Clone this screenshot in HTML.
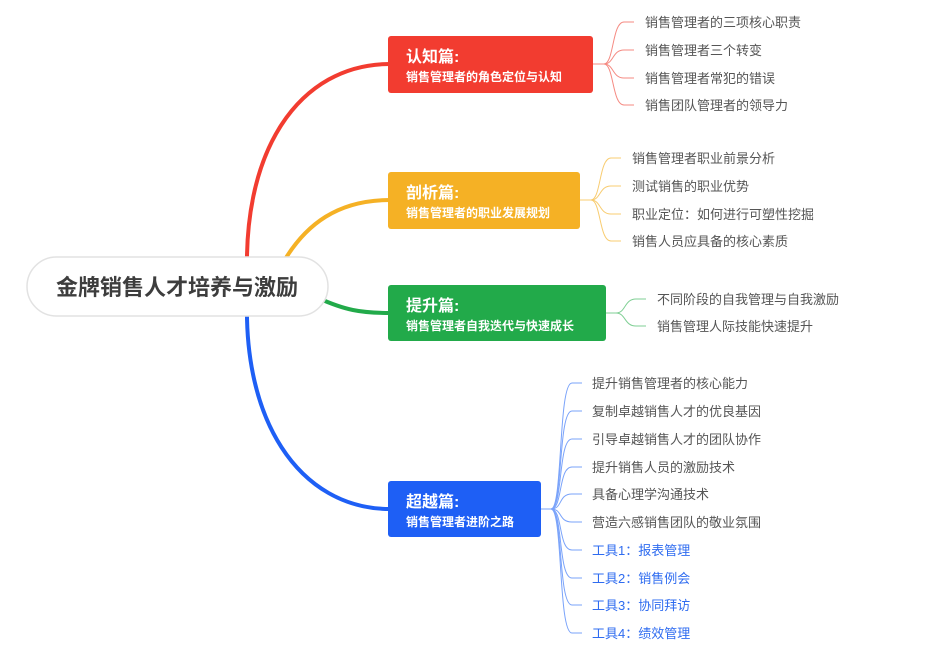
<!DOCTYPE html>
<html><head><meta charset="utf-8"><style>
body{margin:0;background:#fff;width:943px;height:660px;overflow:hidden}
text{font-family:"Liberation Sans","Noto Sans CJK SC",sans-serif}
</style></head><body>
<svg width="943" height="660" viewBox="0 0 943 660" xmlns="http://www.w3.org/2000/svg">
<g fill="none" stroke-width="4">
<path d="M248,292 C238,150 300,64 390,64" stroke="#f23c30"/>
<path d="M248,282 C238,420 300,509 390,509" stroke="#1e5ff5"/>
<path d="M280,268 C305,222 340,200 390,200" stroke="#f5b125"/>
<path d="M318,298 C345,310 360,313 390,313" stroke="#22aa4a"/>
</g>
<rect x="27" y="257" width="301" height="59" rx="29.5" fill="#fff" stroke="#e2e2e2" stroke-width="1.5"/>
<text x="177" y="295" text-anchor="middle" font-size="22" font-weight="bold" fill="#3d3d3d">金牌销售人才培养与激励</text>

<g fill="none" stroke-width="1">
<g stroke="#f58a82">
<path d="M593,64 L604,64"/>
<path d="M604,64 C614,64 612,22 624,22 L634,22"/>
<path d="M604,64 C614,64 612,50 624,50 L634,50"/>
<path d="M604,64 C614,64 612,78 624,78 L634,78"/>
<path d="M604,64 C614,64 612,105 624,105 L634,105"/>
</g>
<g stroke="#f8cc70">
<path d="M580,200 L591,200"/>
<path d="M591,200 C601,200 599,158 611,158 L621,158"/>
<path d="M591,200 C601,200 599,186 611,186 L621,186"/>
<path d="M591,200 C601,200 599,214 611,214 L621,214"/>
<path d="M591,200 C601,200 599,241 611,241 L621,241"/>
</g>
<g stroke="#7fcf94">
<path d="M606,313 L616,313"/>
<path d="M616,313 C626,313 624,299 636,299 L646,299"/>
<path d="M616,313 C626,313 624,326 636,326 L646,326"/>
</g>
<g stroke="#7aa3fa">
<path d="M541,509 L551,509"/>
<path d="M551,509 C563,509 558,383 572,383 L582,383"/>
<path d="M551,509 C563,509 558,411 572,411 L582,411"/>
<path d="M551,509 C563,509 558,439 572,439 L582,439"/>
<path d="M551,509 C563,509 558,467 572,467 L582,467"/>
<path d="M551,509 C563,509 558,494 572,494 L582,494"/>
<path d="M551,509 C563,509 558,522 572,522 L582,522"/>
<path d="M551,509 C563,509 558,550 572,550 L582,550"/>
<path d="M551,509 C563,509 558,578 572,578 L582,578"/>
<path d="M551,509 C563,509 558,605 572,605 L582,605"/>
<path d="M551,509 C563,509 558,633 572,633 L582,633"/>
</g>
</g>

<rect x="388" y="36" width="205" height="57" rx="3" fill="#f23c30"/>
<text x="406" y="62" font-size="16" font-weight="bold" fill="#fff">认知篇:</text>
<text x="406" y="81" font-size="12" font-weight="bold" fill="#fff">销售管理者的角色定位与认知</text>
<rect x="388" y="172" width="192" height="57" rx="3" fill="#f5b125"/>
<text x="406" y="198" font-size="16" font-weight="bold" fill="#fff">剖析篇:</text>
<text x="406" y="217" font-size="12" font-weight="bold" fill="#fff">销售管理者的职业发展规划</text>
<rect x="388" y="285" width="218" height="56" rx="3" fill="#22aa4a"/>
<text x="406" y="311" font-size="16" font-weight="bold" fill="#fff">提升篇:</text>
<text x="406" y="330" font-size="12" font-weight="bold" fill="#fff">销售管理者自我迭代与快速成长</text>
<rect x="388" y="481" width="153" height="56" rx="3" fill="#1e5ff5"/>
<text x="406" y="507" font-size="16" font-weight="bold" fill="#fff">超越篇:</text>
<text x="406" y="526" font-size="12" font-weight="bold" fill="#fff">销售管理者进阶之路</text>

<g font-size="13" fill="#555">
<text x="645" y="27">销售管理者的三项核心职责</text>
<text x="645" y="55">销售管理者三个转变</text>
<text x="645" y="83">销售管理者常犯的错误</text>
<text x="645" y="110">销售团队管理者的领导力</text>
<text x="632" y="163">销售管理者职业前景分析</text>
<text x="632" y="191">测试销售的职业优势</text>
<text x="632" y="219">职业定位：如何进行可塑性挖掘</text>
<text x="632" y="246">销售人员应具备的核心素质</text>
<text x="657" y="304">不同阶段的自我管理与自我激励</text>
<text x="657" y="331">销售管理人际技能快速提升</text>
<text x="592" y="388">提升销售管理者的核心能力</text>
<text x="592" y="416">复制卓越销售人才的优良基因</text>
<text x="592" y="444">引导卓越销售人才的团队协作</text>
<text x="592" y="472">提升销售人员的激励技术</text>
<text x="592" y="499">具备心理学沟通技术</text>
<text x="592" y="527">营造六感销售团队的敬业氛围</text>
</g>
<g font-size="13" fill="#2f6cf0">
<text x="592" y="555">工具1：报表管理</text>
<text x="592" y="583">工具2：销售例会</text>
<text x="592" y="610">工具3：协同拜访</text>
<text x="592" y="638">工具4：绩效管理</text>
</g>
</svg>
</body></html>
